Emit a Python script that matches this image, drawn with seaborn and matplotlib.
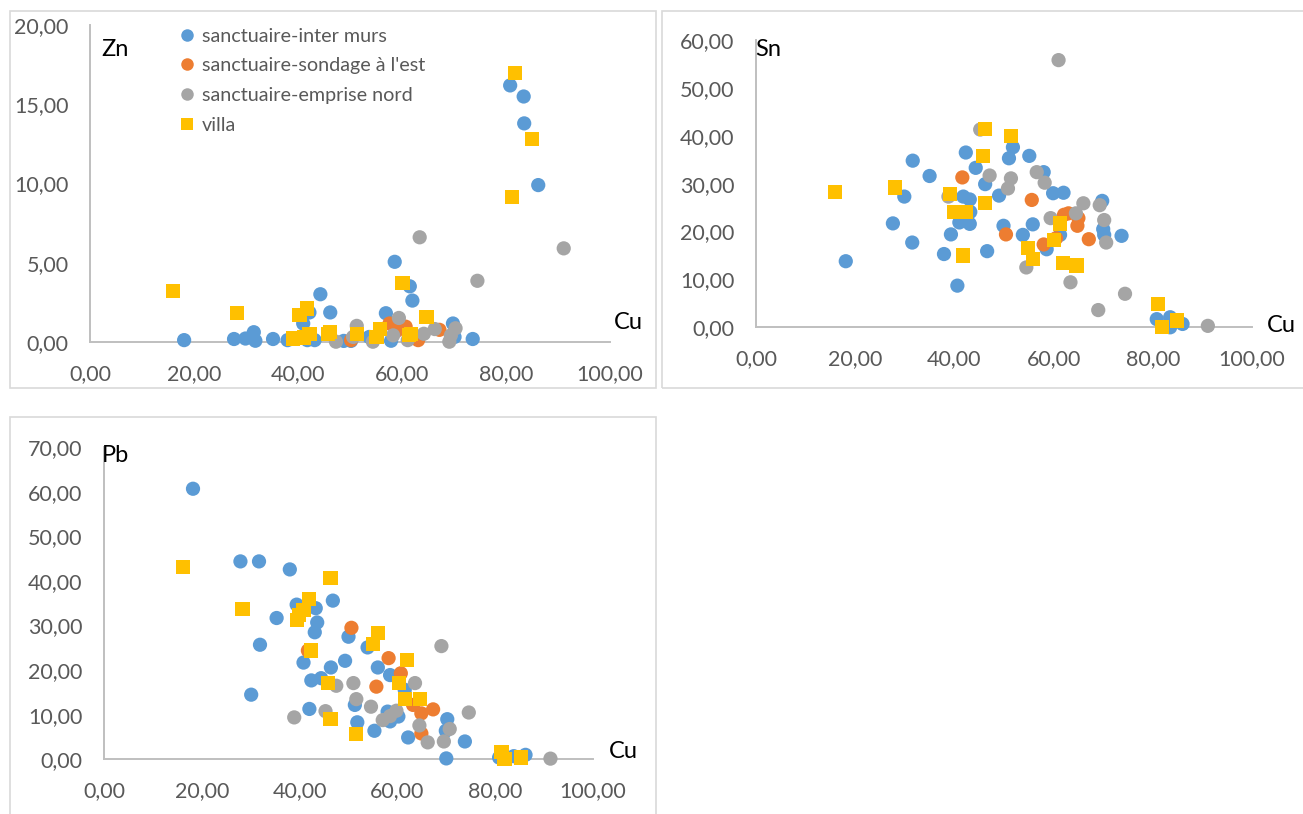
import matplotlib
matplotlib.use("Agg")
import matplotlib.pyplot as plt
import seaborn as sns
import pandas as pd
from matplotlib.patches import Rectangle
from matplotlib.lines import Line2D
from matplotlib.ticker import FuncFormatter, MultipleLocator

# ---------------- data ----------------
series_names = ["sanctuaire-inter murs", "sanctuaire-sondage à l'est",
                "sanctuaire-emprise nord", "villa"]

# Panel 1 : Zn vs Cu
zn_inter_cu = [80.8, 83.4, 83.5, 86.2, 58.6, 61.5, 62.0, 44.3, 46.2, 56.9, 42.2, 41.0, 69.8, 73.6,
               18.1, 27.7, 29.9, 31.5, 31.8, 35.2, 38.0, 41.8, 43.2, 48.8, 50.2, 53.7, 57.9, 61.4, 70.1]
zn_inter = [16.2, 15.5, 13.8, 9.9, 5.05, 3.5, 2.6, 3.0, 1.85, 1.8, 1.85, 1.15, 1.15, 0.17,
            0.1, 0.17, 0.2, 0.6, 0.06, 0.17, 0.1, 0.1, 0.1, 0.05, 0.05, 0.3, 0.06, 0.3, 0.3]
zn_sondage_cu = [57.6, 60.7, 67.2, 63.1, 50.2, 59.0]
zn_sondage = [1.15, 0.95, 0.75, 0.1, 0.1, 0.7]
zn_nord_cu = [63.4, 91.1, 74.5, 59.4, 51.3, 47.3, 54.4, 58.3, 61.1, 64.2, 66.3, 69.1, 70.3, 69.4, 50.6]
zn_nord = [6.6, 5.9, 3.85, 1.5, 1.0, 0.0, 0.0, 0.4, 0.1, 0.5, 0.8, 0.0, 0.85, 0.4, 0.3]
zn_villa_cu = [81.8, 85.0, 81.1, 16.0, 28.2, 60.1, 40.3, 41.8, 64.7, 39.0, 41.1, 42.2, 45.7, 46.2,
               51.4, 55.1, 55.8, 61.4, 61.8]
zn_villa = [17.0, 12.8, 9.15, 3.2, 1.8, 3.7, 1.7, 2.1, 1.55, 0.2, 0.27, 0.5, 0.5, 0.63,
            0.5, 0.3, 0.8, 0.4, 0.5]

# Panel 2 : Sn vs Cu
sn_inter_cu = [18.1, 27.6, 29.9, 31.5, 31.6, 35.0, 37.9, 39.3, 40.6, 41.0, 42.3, 41.8, 43.1, 43.2,
               43.1, 44.3, 46.2, 46.6, 49.0, 49.9, 51.0, 51.8, 53.8, 55.1, 55.8, 58.0, 58.6, 59.9,
               62.0, 61.3, 69.8, 70.0, 70.2, 73.7, 80.8, 83.5, 83.5, 86.0]
sn_inter = [13.8, 21.7, 27.3, 17.7, 34.8, 31.6, 15.3, 19.4, 8.7, 21.9, 36.5, 27.3, 26.7, 24.1,
            21.6, 33.3, 29.9, 15.9, 27.5, 21.2, 35.3, 37.6, 19.3, 35.8, 21.5, 32.4, 16.3, 28.0,
            28.1, 19.3, 26.4, 20.5, 19.3, 19.1, 1.7, 2.1, 0.0, 0.7]
sn_sondage_cu = [41.6, 55.6, 50.4, 63.0, 65.0, 64.8, 67.1, 58.0, 60.5, 62.1]
sn_sondage = [31.3, 26.6, 19.4, 23.8, 22.8, 21.2, 18.4, 17.3, 18.6, 23.5]
sn_nord_cu = [61.0, 45.2, 47.1, 51.4, 50.8, 56.6, 58.2, 38.8, 59.4, 64.5, 66.0, 69.3, 70.2, 70.6,
              54.5, 63.4, 74.4, 69.0, 91.1]
sn_nord = [55.8, 41.3, 31.7, 31.1, 29.0, 32.4, 30.2, 27.3, 22.8, 23.8, 25.9, 25.5, 22.4, 17.7,
           12.5, 9.4, 7.0, 3.6, 0.3]
sn_villa_cu = [16.0, 28.1, 39.1, 39.9, 42.4, 41.8, 46.1, 45.7, 46.1, 51.4, 54.8, 55.9, 61.3, 60.1,
               61.9, 64.6, 81.0, 81.8, 84.9]
sn_villa = [28.2, 29.2, 27.8, 24.1, 24.1, 15.0, 41.4, 35.8, 25.9, 39.9, 16.6, 14.2, 21.7, 18.2,
            13.5, 12.9, 4.9, 0.0, 1.4]

# Panel 3 : Pb vs Cu
pb_inter_cu = [18.2, 27.9, 31.7, 38.0, 31.9, 30.1, 35.3, 39.4, 43.3, 43.6, 43.1, 46.8, 40.8, 42.4,
               44.4, 42.0, 46.4, 49.3, 50.0, 51.3, 51.8, 53.9, 56.0, 55.3, 58.5, 58.0, 58.5, 60.2,
               62.2, 61.5, 70.2, 69.9, 70.0, 73.8, 80.8, 83.8, 86.2]
pb_inter = [60.7, 44.4, 44.4, 42.6, 25.7, 14.5, 31.7, 34.7, 33.9, 30.7, 28.5, 35.6, 21.7, 17.7,
            18.2, 11.3, 20.6, 22.1, 27.5, 12.2, 8.3, 25.1, 20.6, 6.4, 18.9, 10.7, 8.5, 9.6,
            4.9, 15.6, 9.0, 6.4, 0.2, 4.0, 0.4, 0.7, 1.0]
pb_sondage_cu = [50.6, 58.2, 41.7, 55.7, 60.7, 63.2, 64.9, 67.3, 64.9]
pb_sondage = [29.5, 22.7, 24.4, 16.3, 19.3, 12.2, 10.3, 11.2, 5.8]
pb_nord_cu = [69.0, 63.6, 51.0, 51.6, 54.6, 47.5, 45.3, 38.9, 57.0, 58.5, 59.8, 64.5, 66.2, 69.5,
              70.7, 74.6, 91.3]
pb_nord = [25.4, 17.1, 17.1, 13.5, 11.8, 16.5, 10.8, 9.4, 8.8, 9.7, 10.9, 7.6, 3.8, 4.0,
           6.8, 10.5, 0.15]
pb_villa_cu = [16.1, 28.3, 46.3, 42.0, 40.8, 39.8, 39.4, 42.4, 45.8, 46.3, 51.6, 55.0, 56.1, 61.9,
               60.3, 61.5, 64.7, 81.3, 81.9, 85.2]
pb_villa = [43.1, 33.7, 40.6, 36.0, 33.5, 32.4, 31.3, 24.4, 17.1, 9.0, 5.7, 25.9, 28.3, 22.3,
            17.1, 13.5, 13.5, 1.6, 0.0, 0.4]

x_ticks = [0, 20, 40, 60, 80, 100]

# ---------------- style ----------------
colors = {"sanctuaire-inter murs": "#5B9BD5", "sanctuaire-sondage à l'est": "#ED7D31",
          "sanctuaire-emprise nord": "#A5A5A5", "villa": "#FFC000"}
markers = {"sanctuaire-inter murs": "o", "sanctuaire-sondage à l'est": "o",
           "sanctuaire-emprise nord": "o", "villa": "s"}

sns.set_theme(style="white")
plt.rcParams["font.family"] = ["Lato", "DejaVu Sans"]

W, H = 1303, 814
fig = plt.figure(figsize=(W / 100, H / 100), dpi=100)


def px_axes(x0, x1, y_top, y_bot):
    return fig.add_axes([x0 / W, (H - y_bot) / H, (x1 - x0) / W, (y_bot - y_top) / H])


def frame(x0, y0, x1, y1):
    fig.patches.append(Rectangle((x0 / W, (H - y1) / H), (x1 - x0) / W, (y1 - y0) / H,
                                 transform=fig.transFigure, fill=False,
                                 edgecolor="#D9D9D9", linewidth=1.2, zorder=0))


def build(parts):
    rows = []
    for name, (cu, val) in zip(series_names, parts):
        for c, v in zip(cu, val):
            rows.append({"Cu": c, "val": v, "series": name})
    return pd.DataFrame(rows)


fmt = FuncFormatter(lambda v, p: f"{v:.2f}".replace(".", ","))


def panel(ax, df, ymax, ystep, ylab, cu_xy, ylab_xy):
    sns.scatterplot(data=df, x="Cu", y="val", hue="series", style="series",
                    palette=colors, markers=markers, hue_order=series_names,
                    style_order=series_names, s=105, linewidth=0, alpha=1,
                    legend=False, ax=ax, clip_on=False, zorder=3)
    ax.set_xlim(0, 100)
    ax.set_ylim(0, ymax)
    ax.set_xticks(x_ticks)
    ax.yaxis.set_major_locator(MultipleLocator(ystep))
    ax.xaxis.set_major_formatter(fmt)
    ax.yaxis.set_major_formatter(fmt)
    ax.set_xlabel("")
    ax.set_ylabel("")
    ax.patch.set_alpha(0)
    for s in ["top", "right"]:
        ax.spines[s].set_visible(False)
    for s in ["left", "bottom"]:
        ax.spines[s].set_color("#BFBFBF")
        ax.spines[s].set_linewidth(1.4)
        ax.spines[s].set_zorder(1)
    ax.tick_params(axis="x", length=0, pad=16, labelsize=15.5, labelcolor="#595959")
    ax.tick_params(axis="y", length=0, pad=15.5, labelsize=15.5, labelcolor="#595959")
    fig.text(cu_xy[0] / W, 1 - cu_xy[1] / H, "Cu", fontsize=17, color="black",
             ha="center", va="center")
    fig.text(ylab_xy[0] / W, 1 - ylab_xy[1] / H, ylab, fontsize=17, color="black",
             ha="center", va="center")


# frames
frame(10, 11, 656, 388)
frame(662, 11, 1310, 388)
frame(10, 417, 656, 830)

ax1 = px_axes(90, 610, 25.3, 341.7)
ax2 = px_axes(756, 1252, 40.0, 327.3)
ax3 = px_axes(104, 593, 447.3, 759.3)

panel(ax1, build([(zn_inter_cu, zn_inter), (zn_sondage_cu, zn_sondage),
                  (zn_nord_cu, zn_nord), (zn_villa_cu, zn_villa)]),
      20, 5, "Zn", (628, 323), (115, 49))
panel(ax2, build([(sn_inter_cu, sn_inter), (sn_sondage_cu, sn_sondage),
                  (sn_nord_cu, sn_nord), (sn_villa_cu, sn_villa)]),
      60, 10, "Sn", (1281, 326), (768, 49))
panel(ax3, build([(pb_inter_cu, pb_inter), (pb_sondage_cu, pb_sondage),
                  (pb_nord_cu, pb_nord), (pb_villa_cu, pb_villa)]),
      70, 10, "Pb", (623, 751), (116, 456))

# legend (panel 1)
handles = [Line2D([], [], linestyle="none", marker=markers[n], markersize=9,
                  markerfacecolor=colors[n], markeredgewidth=0) for n in series_names]
fig.legend(handles, series_names, loc="upper left",
           bbox_to_anchor=(181.5 / W, 1 - 27.5 / H), frameon=False, fontsize=14.2,
           labelcolor="#595959", handlelength=0.6, handletextpad=0.42,
           labelspacing=0.65, borderpad=0, borderaxespad=0)

fig.savefig("out.png", dpi=100)
